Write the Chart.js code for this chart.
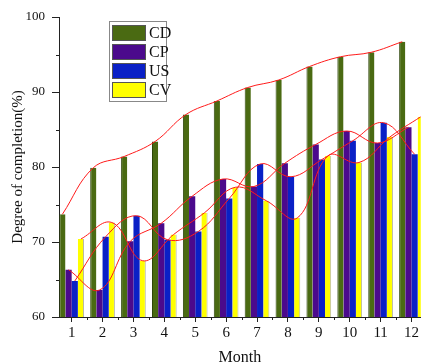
<!DOCTYPE html>
<html>
<head>
<meta charset="utf-8">
<script src="https://cdn.jsdelivr.net/npm/chart.js@4.4.1/dist/chart.umd.min.js"></script>
<style>
  body { margin: 0; background: #fff; overflow: hidden; }
  canvas { display: block; }
</style>
</head>
<body>
<canvas id="completionChart" width="421" height="363"></canvas>
<script>
// Data
const months = [1, 2, 3, 4, 5, 6, 7, 8, 9, 10, 11, 12];
const cdValues = [73.7, 79.9, 81.4, 83.4, 87.0, 88.8, 90.6, 91.6, 93.4, 94.7, 95.3, 96.7];
const cpValues = [66.3, 63.6, 70.1, 72.5, 76.1, 78.4, 77.4, 80.5, 83.0, 84.8, 83.2, 85.3];
const usValues = [64.8, 70.7, 73.5, 70.3, 71.4, 75.8, 80.4, 78.7, 81.0, 83.5, 85.9, 81.7];
const cvValues = [70.4, 72.6, 67.5, 71.0, 73.9, 77.3, 75.5, 73.2, 81.5, 80.6, 84.0, 86.7];
const seriesNames = ['CD', 'CP', 'US', 'CV'];
const yTickValues = [60, 70, 80, 90, 100];

const seriesValues = [cdValues, cpValues, usValues, cvValues];
const seriesColors = ['#4a6a12', '#4b0a8c', '#0a20c6', '#ffff00'];
// thin edge lines seen on the bars (dark left edge on CD, grey shadow after CV)
const seriesEdges = [
    { color: '#2e460a', width: { left: 1, right: 0, top: 0, bottom: 0 } },
    { color: '#4b0a8c', width: 0 },
    { color: '#0a20c6', width: 0 },
    { color: '#b8b8a8', width: { left: 0, right: 1, top: 0, bottom: 0 } }
];
// where each bar sits inside its month group (fraction of one month)
const barOffsets = [-0.3, -0.1, 0.1, 0.3];

const FONT = "'Liberation Serif', 'Times New Roman', serif";

// Bars
const barSets = seriesValues.map((vals, i) => ({
    type: 'bar',
    label: seriesNames[i],
    data: months.map((m, k) => ({ x: m, y: vals[k] })),
    backgroundColor: seriesColors[i],
    borderColor: seriesEdges[i].color,
    borderWidth: seriesEdges[i].width,
    borderSkipped: 'bottom',
    categoryPercentage: 0.8,
    barPercentage: 1.0,
    order: 1
}));

// Red smoothed curves through the bar tops
const curveSets = seriesValues.map((vals, i) => ({
    type: 'line',
    label: seriesNames[i] + ' fit',
    data: months.map((m, k) => ({ x: m + barOffsets[i], y: vals[k] })),
    borderColor: '#ff1a1a',
    borderWidth: 1,
    pointRadius: 0,
    tension: 0.4,
    fill: false,
    order: 0
}));

// Minor tick marks + boxed legend
const extrasPlugin = {
    id: 'extras',
    afterDraw(chart) {
        const ctx = chart.ctx;
        const x = chart.scales.x;
        const y = chart.scales.y;
        const area = chart.chartArea;
        ctx.save();
        ctx.strokeStyle = '#222';
        ctx.lineWidth = 1;
        ctx.beginPath();
        for (let v = 65; v < 100; v += 10) {
            const py = Math.round(y.getPixelForValue(v)) + 0.5;
            ctx.moveTo(area.left - 3, py);
            ctx.lineTo(area.left, py);
        }
        for (let v = 1.5; v < 12.5; v += 1) {
            const px = Math.round(x.getPixelForValue(v)) + 0.5;
            ctx.moveTo(px, area.bottom);
            ctx.lineTo(px, area.bottom + 3);
        }
        ctx.stroke();

        // legend
        const lx = 109.5, ly = 21.5, lw = 57, lh = 80;
        ctx.fillStyle = '#fff';
        ctx.fillRect(lx, ly, lw, lh);
        ctx.strokeStyle = '#888';
        ctx.strokeRect(lx, ly, lw, lh);
        ctx.font = '16px ' + FONT;
        ctx.textBaseline = 'middle';
        seriesNames.forEach((name, i) => {
            const sy = 25 + i * 19;
            ctx.fillStyle = seriesColors[i];
            ctx.fillRect(112, sy, 34, 16);
            ctx.strokeStyle = '#555';
            ctx.strokeRect(112.5, sy + 0.5, 33, 15);
            ctx.fillStyle = '#111';
            ctx.fillText(name, 149, sy + 9);
        });
        ctx.restore();
    }
};

new Chart(document.getElementById('completionChart'), {
    type: 'bar',
    data: { datasets: [...barSets, ...curveSets] },
    options: {
        responsive: false,
        animation: false,
        layout: { padding: { top: 17, right: 0, bottom: 0, left: 0 } },
        plugins: {
            legend: { display: false },
            tooltip: { enabled: false }
        },
        scales: {
            x: {
                type: 'linear',
                offset: false,
                min: 0.59,
                max: 12.3,
                afterFit: s => { s.height = 46; },
                afterBuildTicks: s => { s.ticks = months.map(m => ({ value: m })); },
                grid: { drawOnChartArea: false, drawTicks: true, tickLength: 5, color: '#222', offset: false },
                border: { color: '#222', width: 1 },
                ticks: {
                    padding: 2,
                    color: '#111',
                    font: { family: FONT, size: 15 },
                    maxRotation: 0,
                    callback: v => String(v)
                },
                title: {
                    display: true,
                    text: 'Month',
                    color: '#111',
                    font: { family: FONT, size: 16 },
                    padding: { top: 0, bottom: -4 }
                }
            },
            y: {
                min: 60,
                max: 100,
                afterFit: s => { s.width = 59; },
                afterBuildTicks: s => { s.ticks = yTickValues.map(v => ({ value: v })); },
                grid: { drawOnChartArea: false, drawTicks: true, tickLength: 7, color: '#222' },
                border: { color: '#222', width: 1 },
                ticks: {
                    padding: 7,
                    color: '#111',
                    font: { family: FONT, size: 13 }
                },
                title: {
                    display: true,
                    text: 'Degree of completion(%)',
                    color: '#111',
                    font: { family: FONT, size: 15 },
                    padding: { top: 9, bottom: 0 }
                }
            }
        }
    },
    plugins: [extrasPlugin]
});
</script>
</body>
</html>
